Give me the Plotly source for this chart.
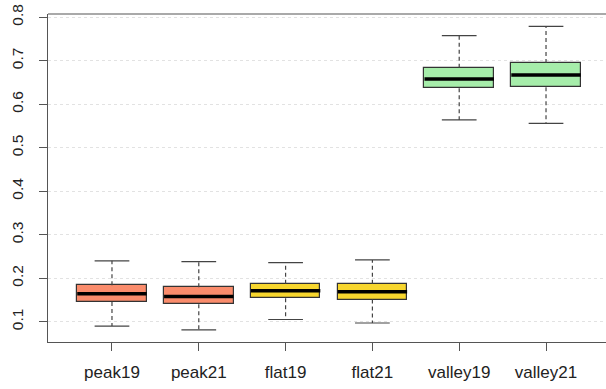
import plotly.graph_objects as go

categories = ["peak19", "peak21", "flat19", "flat21", "valley19", "valley21"]
lower = [0.090, 0.081, 0.105, 0.097, 0.564, 0.556]
q1 = [0.145, 0.140, 0.154, 0.151, 0.637, 0.639]
median = [0.164, 0.158, 0.171, 0.169, 0.658, 0.667]
q3 = [0.184, 0.179, 0.187, 0.187, 0.684, 0.695]
upper = [0.240, 0.238, 0.236, 0.242, 0.758, 0.779]
colors = ["#FA8C6C", "#FA8C6C", "#F7D62E", "#F7D62E", "#A6EDAA", "#A6EDAA"]
yticks = [0.1, 0.2, 0.3, 0.4, 0.5, 0.6, 0.7, 0.8]

pos = list(range(1, len(categories) + 1))
BOXW = 0.8
CAPW = 0.4

fig = go.Figure()

# whiskers (dashed)
wx, wy = [], []
for p, lo, a, b, hi in zip(pos, lower, q1, q3, upper):
    wx += [p, p, None, p, p, None]
    wy += [b, hi, None, a, lo, None]
fig.add_trace(go.Scatter(x=wx, y=wy, mode="lines",
                         line=dict(color="#444444", width=1.2, dash="4px,3px"),
                         hoverinfo="skip", showlegend=False))
# caps
cx, cy = [], []
for p, lo, hi in zip(pos, lower, upper):
    cx += [p - CAPW / 2, p + CAPW / 2, None, p - CAPW / 2, p + CAPW / 2, None]
    cy += [hi, hi, None, lo, lo, None]
fig.add_trace(go.Scatter(x=cx, y=cy, mode="lines",
                         line=dict(color="#444444", width=1.2),
                         hoverinfo="skip", showlegend=False))
# boxes
fig.add_trace(go.Bar(x=pos, base=q1, y=[b - a for a, b in zip(q1, q3)],
                     width=BOXW, marker=dict(color=colors, line=dict(color="#333333", width=1.2)),
                     showlegend=False))
# medians
mx, my = [], []
for p, m in zip(pos, median):
    mx += [p - BOXW / 2, p + BOXW / 2, None]
    my += [m, m, None]
fig.add_trace(go.Scatter(x=mx, y=my, mode="lines",
                         line=dict(color="#000000", width=3.5),
                         hoverinfo="skip", showlegend=False))

fig.add_shape(type="line", xref="paper", yref="paper", x0=0, x1=1, y0=1, y1=1,
              line=dict(color="#555555", width=1.2))

fig.update_layout(
    width=606, height=389,
    margin=dict(l=48, r=0, t=14, b=47),
    plot_bgcolor="white", paper_bgcolor="white",
    font=dict(family="Liberation Sans, Arial, sans-serif", size=17, color="#222222"),
    bargap=0,
    xaxis=dict(range=[0.263, 6.691], tickmode="array", tickvals=pos, ticktext=categories,
               showgrid=False, zeroline=False, showline=True, linecolor="#555555", linewidth=1.2,
               ticks="outside", ticklen=8, tickcolor="#555555", tickwidth=1.2,
               ticklabelstandoff=6, automargin=False, ticklabeloverflow="allow"),
    yaxis=dict(range=[0.0533, 0.8075], tickmode="array", tickvals=yticks,
               ticktext=[f"{v:.1f}" for v in yticks], tickangle=-90,
               tickfont=dict(size=15.5),
               showgrid=True, gridcolor="#E2E2E2", griddash="dot", gridwidth=1,
               zeroline=False, showline=True, linecolor="#555555", linewidth=1.2,
               ticks="outside", ticklen=8, tickcolor="#555555", tickwidth=1.2,
               ticklabelstandoff=10, automargin=False, ticklabeloverflow="allow"),
)

# remove the page's default 8px body margin so the figure fills the window
fig.write_html("out.html", config={"displayModeBar": False},
               post_script="document.body.style.margin='0px';")
